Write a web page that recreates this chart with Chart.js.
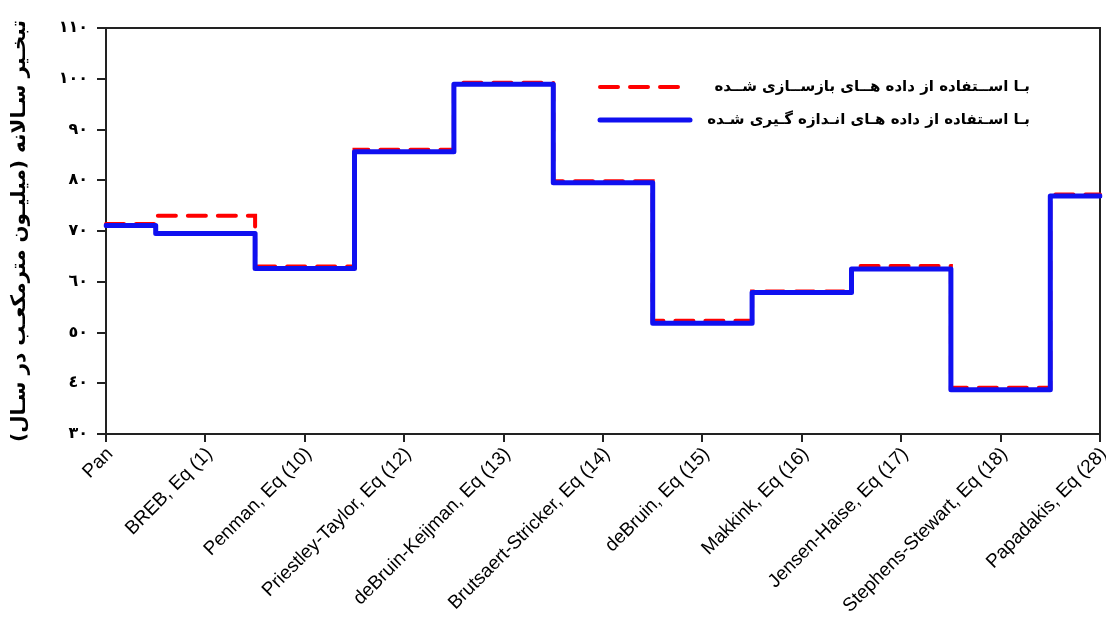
<!DOCTYPE html>
<html>
<head>
<meta charset="utf-8">
<script src="https://cdn.jsdelivr.net/npm/chart.js@4.4.1/dist/chart.umd.min.js"></script>
<style>
  html, body { margin: 0; padding: 0; background: #ffffff; }
  #wrap { width: 1106px; height: 619px; }
</style>
</head>
<body>
<div id="wrap"><canvas id="c" width="1106" height="619"></canvas></div>
<script>
// Evaporation estimates for each method (million cubic metres per year)
const methods = [
  'Pan', 'BREB, Eq (1)', 'Penman, Eq (10)', 'Priestley-Taylor, Eq (12)',
  'deBruin-Keijman, Eq (13)', 'Brutsaert-Stricker, Eq (14)', 'deBruin, Eq (15)',
  'Makkink, Eq (16)', 'Jensen-Haise, Eq (17)', 'Stephens-Stewart, Eq (18)',
  'Papadakis, Eq (28)'
];
const reconstructed = [71.4, 73.0, 63.0, 86.0, 99.2, 79.8, 52.3, 58.1, 63.1, 39.1, 77.2];
const measured      = [71.1, 69.5, 62.6, 85.6, 98.9, 79.5, 51.8, 57.9, 62.5, 38.7, 76.9];
const yTicks = [30, 40, 50, 60, 70, 80, 90, 100, 110];

const seriesNames = [
  'بـا اســتفاده از داده هــای بازســازی شــده',
  'بـا اسـتفاده از داده هـای انـدازه گـیری شـده'
];
const yTitle = 'تبخـیر سـالانه (میلیـون مترمکعـب در سـال)';

const arabicDigits = ['٠','١','٢','٣','٤','٥','٦','٧','٨','٩'];
const toArabic = n => String(n).replace(/[0-9]/g, d => arabicDigits[+d]);

const AR_FONT = "'DejaVu Sans', sans-serif";
const AXIS_COLOR = '#222222';

// Box around the plot area (top and right edges complete the frame)
const framePlugin = {
  id: 'frame',
  beforeDatasetsDraw(chart) {
    const a = chart.chartArea, ctx = chart.ctx;
    ctx.save();
    ctx.strokeStyle = AXIS_COLOR;
    ctx.lineWidth = 2;
    ctx.strokeRect(a.left, a.top, a.right - a.left, a.bottom - a.top);
    ctx.restore();
  }
};

// Legend placed inside the plot, upper right
const insideLegend = {
  id: 'insideLegend',
  afterDatasetsDraw(chart) {
    const ctx = chart.ctx;
    const rows = [
      { ds: chart.data.datasets[0], y: 87, x0: 600, x1: 680 },
      { ds: chart.data.datasets[1], y: 120, x0: 600, x1: 690 }
    ];
    ctx.save();
    rows.forEach(r => {
      ctx.beginPath();
      ctx.strokeStyle = r.ds.borderColor;
      ctx.lineWidth = r.ds.borderWidth;
      ctx.lineCap = 'round';
      ctx.setLineDash(r.ds.borderDash || []);
      ctx.moveTo(r.x0, r.y);
      ctx.lineTo(r.x1, r.y);
      ctx.stroke();
      ctx.setLineDash([]);
      ctx.fillStyle = '#000000';
      ctx.font = 'bold 15px ' + AR_FONT;
      ctx.textAlign = 'right';
      ctx.textBaseline = 'middle';
      ctx.direction = 'rtl';
      ctx.fillText(r.ds.label, 1030, r.y);
    });
    ctx.restore();
  }
};

new Chart(document.getElementById('c'), {
  type: 'line',
  data: {
    labels: methods,
    datasets: [
      {
        label: seriesNames[0],
        data: reconstructed,
        borderColor: '#ff0000',
        borderWidth: 4,
        borderDash: [18, 12],
        borderCapStyle: 'round',
        stepped: 'middle',
        pointRadius: 0,
        fill: false,
        order: 1
      },
      {
        label: seriesNames[1],
        data: measured,
        borderColor: '#1010f0',
        borderWidth: 5,
        borderCapStyle: 'round',
        borderJoinStyle: 'round',
        stepped: 'middle',
        pointRadius: 0,
        fill: false,
        order: 0
      }
    ]
  },
  options: {
    responsive: false,
    animation: false,
    devicePixelRatio: 1,
    layout: { padding: { top: 28, right: 6, left: 0, bottom: 0 } },
    plugins: { legend: { display: false }, tooltip: { enabled: false } },
    scales: {
      x: {
        type: 'category',
        offset: false,
        grid: { display: true, drawOnChartArea: false, drawTicks: true, tickLength: 8, color: AXIS_COLOR, lineWidth: 2 },
        border: { display: true, color: AXIS_COLOR, width: 2 },
        ticks: {
          color: '#000000',
          font: { family: "'Liberation Sans', Arial, sans-serif", size: 19 },
          minRotation: 45,
          maxRotation: 45,
          autoSkip: false,
          padding: 1,
          labelOffset: 4
        },
        afterFit(scale) {
          scale.height = 185;
          scale.paddingRight = 0;
          scale.paddingLeft = 0;
        }
      },
      y: {
        min: 30,
        max: 110,
        afterBuildTicks(scale) { scale.ticks = yTicks.map(v => ({ value: v })); },
        grid: { display: true, drawOnChartArea: false, drawTicks: true, tickLength: 9, color: AXIS_COLOR, lineWidth: 2 },
        border: { display: true, color: AXIS_COLOR, width: 2 },
        ticks: {
          color: '#000000',
          font: { family: AR_FONT, size: 16, weight: 'bold' },
          padding: 9,
          callback: v => toArabic(v)
        },
        title: {
          display: true,
          text: yTitle,
          color: '#000000',
          font: { family: AR_FONT, size: 20, weight: 'bold' },
          padding: { top: 8, bottom: 0 }
        },
        afterFit(scale) {
          scale.width = 106;
          scale.paddingTop = 0;
          scale.paddingBottom = 0;
        }
      }
    }
  },
  plugins: [framePlugin, insideLegend]
});
</script>
</body>
</html>
